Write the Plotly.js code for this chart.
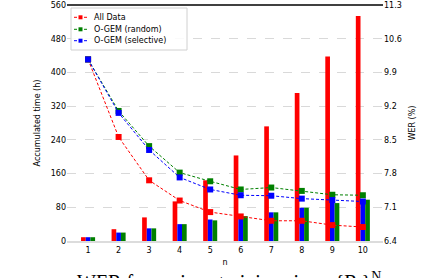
<!DOCTYPE html>
<html>
<head>
<meta charset="utf-8">
<script src="https://cdn.plot.ly/plotly-3.0.1.min.js"></script>
<style>html,body{margin:0;padding:0;background:#fff;overflow:hidden}#c{width:422px;height:278px}</style>
</head>
<body>
<div id="c"></div>
<script>
const nValues = [1, 2, 3, 4, 5, 6, 7, 8, 9, 10];
const timeAllData = [9, 28, 56, 94, 144, 203, 272, 351, 438, 534];
const timeSelective = [9, 20, 30, 40, 51, 59, 68, 79, 98, 98];
const timeRandom = [9, 20, 30, 40, 49, 59, 68, 79, 90, 98];
const werAllData = [10.17, 8.56, 7.66, 7.24, 7.0, 6.91, 6.82, 6.82, 6.73, 6.69];
const werRandom = [10.17, 9.10, 8.37, 7.82, 7.64, 7.47, 7.51, 7.44, 7.36, 7.35];
const werSelective = [10.17, 9.06, 8.29, 7.72, 7.47, 7.35, 7.34, 7.28, 7.25, 7.22];
const leftTicks = [0, 80, 160, 240, 320, 400, 480, 560];
const rightTicks = [6.4, 7.1, 7.8, 8.5, 9.2, 9.9, 10.6, 11.3];
const seriesNames = ['All Data', 'O-GEM (random)', 'O-GEM (selective)'];

const RED = '#ff0000', GREEN = '#008000', BLUE = '#0000ff';
const seriesColors = [RED, GREEN, BLUE];
const font = {family: 'DejaVu Sans', size: 8, color: '#000'};

// plot area in pixels (for the hand-drawn legend)
const PL = 67, PR = 383, PT = 5, PB = 241;
const px = v => (v - PL) / (PR - PL);
const py = v => 1 - (v - PT) / (PB - PT);

function bar(y, color) {
  return {type: 'bar', x: nValues, y: y, marker: {color: color, line: {width: 0}},
          showlegend: false, hoverinfo: 'skip', yaxis: 'y'};
}
function line(y, color, name) {
  return {type: 'scatter', mode: 'lines+markers', x: nValues, y: y, name: name, yaxis: 'y2',
          showlegend: false,
          line: {color: color, width: 1, dash: '3px,2px'},
          marker: {symbol: 'square', size: 6, color: color}};
}

const data = [
  bar(timeAllData, RED),
  bar(timeSelective, BLUE),
  bar(timeRandom, GREEN),
  line(werAllData, RED, seriesNames[0]),
  line(werRandom, GREEN, seriesNames[1]),
  line(werSelective, BLUE, seriesNames[2])
];

const shapes = [
  {type: 'line', xref: 'paper', yref: 'paper', x0: 0, x1: 1, y0: 1, y1: 1,
   line: {color: '#000', width: 1.5}},
  {type: 'rect', xref: 'paper', yref: 'paper', x0: px(71), x1: px(187), y0: py(8), y1: py(50),
   fillcolor: 'rgba(255,255,255,0.85)', line: {color: '#d0d0d0', width: 1}, layer: 'above'}
];
const annotations = [];
const legendRows = [17.3, 29.3, 40.7];
seriesNames.forEach((name, i) => {
  const yy = py(legendRows[i]);
  shapes.push({type: 'line', xref: 'paper', yref: 'paper', x0: px(74), x1: px(87), y0: yy, y1: yy,
               line: {color: seriesColors[i], width: 1, dash: '3px,2px'}, layer: 'above'});
  shapes.push({type: 'rect', xref: 'paper', yref: 'paper', x0: px(78.5), x1: px(82.5),
               y0: py(legendRows[i] + 2), y1: py(legendRows[i] - 2),
               fillcolor: seriesColors[i], line: {width: 0}, layer: 'above'});
  annotations.push({xref: 'paper', yref: 'paper', x: px(92), y: yy, xanchor: 'left', yanchor: 'middle',
                    showarrow: false, text: name, font: {family: 'DejaVu Sans', size: 8, color: '#000'}});
});
annotations.push({xref: 'paper', yref: 'paper', x: 0.025, y: -0.11, xanchor: 'left', yanchor: 'top',
                  showarrow: false, text: 'WER for various training sizes, {R<sub>i</sub>}<sup>N</sup>',
                  font: {family: 'Liberation Serif', size: 20, color: '#000'}});

const layout = {
  width: 422, height: 278,
  margin: {l: 67, r: 39, t: 5, b: 37},
  paper_bgcolor: '#fff', plot_bgcolor: '#fff',
  font: font,
  barmode: 'group', bargap: 0.54, bargroupgap: 0,
  showlegend: false,
  xaxis: {range: [0.31, 10.66], tickvals: nValues, ticktext: nValues.map(String),
          showgrid: false, zeroline: false, showline: true, linecolor: '#dcdcdc', linewidth: 2,
          ticks: '', tickfont: font, title: {text: 'n', font: font, standoff: 6}},
  yaxis: {range: [0, 560], tickvals: leftTicks, ticktext: leftTicks.map(String),
          showgrid: true, gridcolor: '#d9d9d9', griddash: 'dash', gridwidth: 1,
          zeroline: false, showline: false, ticks: '', tickfont: font,
          title: {text: 'Accumulated time (h)', font: font, standoff: 8}},
  yaxis2: {overlaying: 'y', side: 'right', range: [6.4, 11.3], tickvals: rightTicks,
           ticktext: rightTicks.map(v => v.toFixed(1)), showgrid: false, zeroline: false,
           showline: false, ticks: '', tickfont: font,
           title: {text: 'WER (%)', font: font, standoff: 8}},
  shapes: shapes,
  annotations: annotations
};

Plotly.newPlot('c', data, layout, {displayModeBar: false, staticPlot: true});
</script>
</body>
</html>
